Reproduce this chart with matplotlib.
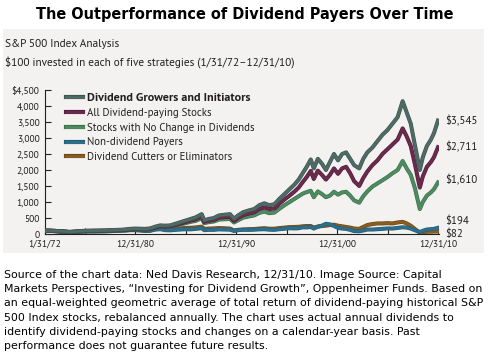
import matplotlib
matplotlib.use("Agg")
import matplotlib.pyplot as plt
from matplotlib import font_manager
from matplotlib.font_manager import FontProperties
from matplotlib.patches import Rectangle
from matplotlib.lines import Line2D
import matplotlib.patheffects as pe

# ---------------- data ----------------
years = [1972.08, 1972.5, 1973.0, 1973.5, 1974.0, 1974.5, 1975.0, 1975.5, 1976.0, 1977.0,
         1978.0, 1979.0, 1980.0, 1980.5, 1981.0, 1981.5, 1982.0, 1982.5, 1983.0, 1983.5,
         1984.0, 1984.5, 1985.0, 1985.5, 1986.0, 1986.5, 1987.0, 1987.6, 1987.85, 1988.3,
         1988.8, 1989.3, 1989.8, 1990.4, 1990.8, 1991.2, 1991.7, 1992.3, 1992.8, 1993.3,
         1993.8, 1994.3, 1994.8, 1995.3, 1995.8, 1996.3, 1996.8, 1997.2, 1997.6, 1998.0,
         1998.4, 1998.7, 1999.1, 1999.5, 1999.9, 2000.3, 2000.7, 2001.1, 2001.5, 2001.9,
         2002.3, 2002.7, 2003.2, 2003.6, 2004.0, 2004.5, 2005.0, 2005.5, 2006.0, 2006.5,
         2007.0, 2007.5, 2007.9, 2008.3, 2008.7, 2009.2, 2009.5, 2009.9, 2010.3, 2010.6,
         2011.0]

growers = [100, 105, 100, 90, 80, 65, 75, 90, 100, 105,
           110, 125, 140, 160, 170, 165, 160, 175, 230, 270,
           260, 270, 320, 370, 420, 470, 520, 620, 430, 470,
           500, 580, 600, 620, 480, 580, 680, 740, 780, 900,
           960, 900, 930, 1100, 1250, 1400, 1550, 1700, 1900, 2100,
           2330, 2050, 2350, 2200, 2000, 2250, 2500, 2300, 2500, 2550,
           2350, 2150, 2050, 2350, 2550, 2700, 2900, 3100, 3250, 3450,
           3650, 4150, 3800, 3450, 2800, 2000, 2400, 2750, 2950, 3150,
           3545]

all_div = [100, 104, 98, 88, 78, 63, 72, 86, 95, 100,
           104, 115, 128, 145, 152, 148, 142, 155, 205, 240,
           230, 240, 285, 330, 375, 420, 460, 550, 380, 415,
           440, 510, 525, 540, 410, 500, 590, 640, 680, 780,
           830, 780, 800, 950, 1080, 1200, 1330, 1450, 1620, 1780,
           1970, 1720, 1980, 1850, 1700, 1850, 2050, 1880, 2050, 2100,
           1900, 1650, 1500, 1750, 1950, 2150, 2300, 2500, 2650, 2800,
           2950, 3300, 3050, 2750, 2200, 1450, 1800, 2100, 2250, 2400,
           2711]

no_change = [100, 103, 96, 86, 75, 60, 70, 83, 92, 96,
             100, 110, 122, 138, 145, 140, 135, 146, 190, 220,
             212, 220, 260, 300, 340, 380, 410, 490, 340, 370,
             390, 450, 460, 470, 360, 430, 510, 550, 580, 660,
             700, 650, 670, 790, 900, 1000, 1100, 1180, 1260, 1310,
             1350, 1150, 1330, 1250, 1150, 1200, 1320, 1230, 1300, 1320,
             1200, 1050, 980, 1180, 1330, 1480, 1580, 1680, 1780, 1900,
             2000, 2280, 2050, 1850, 1450, 780, 1000, 1200, 1300, 1400,
             1610]

non_div = [100, 100, 90, 75, 60, 45, 55, 65, 75, 75,
           80, 95, 110, 125, 120, 110, 95, 100, 140, 150,
           120, 115, 130, 140, 150, 145, 160, 180, 120, 130,
           130, 145, 140, 135, 95, 120, 135, 130, 135, 145,
           150, 135, 130, 150, 165, 180, 175, 180, 210, 205,
           220, 170, 230, 260, 320, 300, 250, 190, 170, 160,
           130, 90, 85, 110, 140, 140, 150, 160, 175, 170,
           190, 210, 200, 170, 120, 60, 100, 140, 150, 160,
           194]

cutters = [100, 98, 88, 78, 65, 50, 60, 72, 85, 90,
           92, 100, 110, 120, 125, 120, 110, 115, 150, 165,
           150, 150, 165, 175, 190, 195, 205, 230, 160, 170,
           175, 185, 180, 170, 110, 130, 140, 150, 155, 170,
           180, 165, 165, 185, 200, 215, 220, 225, 240, 250,
           250, 200, 230, 250, 260, 280, 290, 260, 240, 220,
           200, 170, 160, 220, 280, 310, 330, 330, 340, 330,
           360, 380, 330, 260, 160, 40, 55, 70, 72, 75,
           82]

series_names = ["Dividend Growers and Initiators", "All Dividend-paying Stocks",
                "Stocks with No Change in Dividends", "Non-dividend Payers",
                "Dividend Cutters or Eliminators"]
series_values = [growers, all_div, no_change, non_div, cutters]
series_colors = ["#4f6b65", "#6b2b4f", "#4f8b60", "#2e6e8b", "#8a5c22"]
edge_colors = ["#3c5550", "#521d3b", "#3c7049", "#225d76", "#6e4817"]

major_ticks = [1972.08, 1981.0, 1991.0, 2001.0, 2011.0]
major_labels = ["1/31/72", "12/31/80", "12/31/90", "12/31/00", "12/31/10"]
minor_ticks = [1976.0, 1986.0, 1996.0, 2006.0]
y_ticks = [0, 500, 1000, 1500, 2000, 2500, 3000, 3500, 4000, 4500]
y_labels = ["0", "500", "1,000", "1,500", "2,000", "2,500", "3,000", "3,500", "4,000", "$4,500"]

title = "The Outperformance of Dividend Payers Over Time"
subtitle1 = "S&P 500 Index Analysis"
subtitle2 = "$100 invested in each of five strategies (1/31/72\u201312/31/10)"
footer = ["Source of the chart data: Ned Davis Research, 12/31/10. Image Source: Capital",
          "Markets Perspectives, \u201cInvesting for Dividend Growth\u201d, Oppenheimer Funds. Based on",
          "an equal-weighted geometric average of total return of dividend-paying historical S&P",
          "500 Index stocks, rebalanced annually. The chart uses actual annual dividends to",
          "identify dividend-paying stocks and changes on a calendar-year basis. Past",
          "performance does not guarantee future results."]

# ---------------- fonts ----------------
def static_file(name, weight):
    for f in font_manager.fontManager.ttflist:
        fn = f.fname.split("/")[-1]
        if (f.name == name and f.style == "normal" and f.weight == weight
                and "[" not in fn and "Variable" not in fn and "VF" not in fn):
            return f.fname
    return None


reg_file, bold_file = None, None
for cand in ["PT Sans", "Source Sans Pro", "Source Sans 3", "Asap", "Fira Sans",
             "Open Sans", "Liberation Sans"]:
    r_, b_ = static_file(cand, 400), static_file(cand, 700)
    if r_ and b_:
        reg_file, bold_file = r_, b_
        break


def FP(size, bold=False):
    if reg_file:
        return FontProperties(fname=bold_file if bold else reg_file, size=size)
    return FontProperties(family="DejaVu Sans", size=size,
                          weight="bold" if bold else "normal")


plt.rcParams["text.color"] = "#231f20"

W, H = 489, 353
fig = plt.figure(figsize=(W / 100, H / 100), dpi=100)
fig.patch.set_facecolor("white")
fig.canvas.draw()
R = fig.canvas.get_renderer()


def fx(px):
    return px / W


def fy(py):
    return 1 - py / H


def fit(s, target, fp):
    fp = fp.copy()
    fp.set_size(10)
    tmp = fig.text(0, 0, s, fontproperties=fp)
    w = tmp.get_window_extent(R).width
    tmp.remove()
    return 10 * target / w


tick_fs = fit("$4,500", 28, FP(10))
leg_fs = fit("Stocks with No Change in Dividends", 169, FP(10))
leg_bold_fs = fit("Dividend Growers and Initiators", 164, FP(10, bold=True))
sub_fs = fit(subtitle2, 292, FP(10))
end_fs = fit("$3,545", 32, FP(10))
dv_b = FontProperties(family="DejaVu Sans", weight="bold", size=10)
dv = FontProperties(family="DejaVu Sans", size=10)
title_fs = fit(title, 417, dv_b)
foot_fs = fit(footer[2], 476, dv)

# gray panel
fig.add_artist(Rectangle((fx(3), fy(253)), fx(484) - fx(3), fy(29) - fy(253),
                         transform=fig.transFigure, facecolor="#f3f2f0",
                         edgecolor="none", zorder=0))

ax = fig.add_axes([fx(45), fy(234), fx(439) - fx(45), fy(90) - fy(234)])
ax.set_facecolor("none")

for name, vals, col, ec in reversed(list(zip(series_names, series_values, series_colors, edge_colors))):
    ax.plot(years, vals, color=col, lw=2.0, solid_joinstyle="round",
            path_effects=[pe.Stroke(linewidth=2.9, foreground=ec), pe.Normal()])

ax.set_xlim(1972.08, 2011.1)
ax.set_ylim(0, 4500)
for s in ["top", "right"]:
    ax.spines[s].set_visible(False)
for s in ["left", "bottom"]:
    ax.spines[s].set_linewidth(0.8)
    ax.spines[s].set_color("#231f20")
    ax.spines[s].set_zorder(0.5)

ax.set_yticks(y_ticks)
ax.set_yticklabels(y_labels)
ax.set_xticks(major_ticks)
ax.set_xticklabels(major_labels)
ax.set_xticks(minor_ticks, minor=True)
ax.tick_params(axis="y", direction="in", length=4.5, width=0.8, pad=4, colors="#231f20")
ax.tick_params(axis="x", which="both", direction="in", length=4.5, width=0.8, pad=4,
               colors="#231f20")
for lab in ax.get_xticklabels() + ax.get_yticklabels():
    lab.set_fontproperties(FP(tick_fs))

# legend
handles = [Line2D([0], [0], color=c, lw=2.0,
                  path_effects=[pe.Stroke(linewidth=3.0, foreground=ec), pe.Normal()])
           for c, ec in zip(series_colors, edge_colors)]
leg = ax.legend(handles, series_names, loc="upper left",
                bbox_to_anchor=((66 - 45) / 394, 1 - 3 / 144),
                frameon=False, prop=FP(leg_fs), handlelength=1.6, handletextpad=0.3,
                labelspacing=0.44, borderpad=0, borderaxespad=0)
leg.get_texts()[0].set_fontproperties(FP(leg_bold_fs, bold=True))

# end labels
end_offsets = [(5, 0), (5, 0), (5, 2), (5, 5), (5, -1.5)]
for vals, off in zip(series_values, end_offsets):
    ax.annotate(f"${vals[-1]:,}", (years[-1], vals[-1]), xytext=off,
                textcoords="offset points", va="center", ha="left",
                fontproperties=FP(end_fs), annotation_clip=False)

# titles
fig.text(0.5, fy(14), title, ha="center", va="center", fontsize=title_fs,
         fontweight="bold", family="DejaVu Sans", color="black")
fig.text(fx(5), fy(44), subtitle1, ha="left", va="center", fontproperties=FP(sub_fs))
fig.text(fx(5), fy(63), subtitle2, ha="left", va="center", fontproperties=FP(sub_fs))

foot_y = [275, 289, 303, 318, 332, 346]
for line, yy in zip(footer, foot_y):
    fig.text(fx(4), fy(yy), line, ha="left", va="center", fontsize=foot_fs,
             family="DejaVu Sans", color="black")

fig.savefig("out.png", dpi=100, facecolor="white")
